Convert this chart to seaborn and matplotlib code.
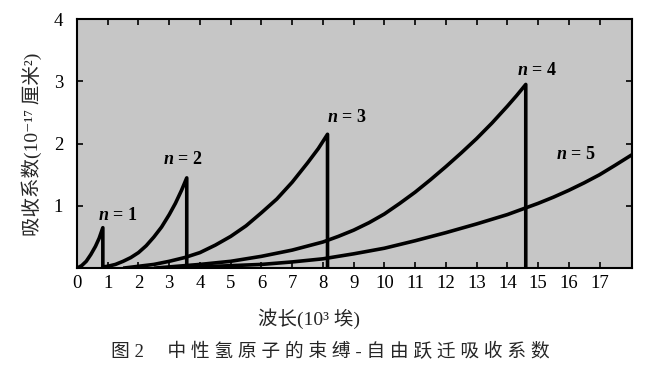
import numpy as np
import pandas as pd
import matplotlib
matplotlib.use("Agg")
import matplotlib.pyplot as plt
import seaborn as sns

# wavelength in 10^3 A, absorption in 10^-17 cm^2
x_n1 = [0.0, 0.15, 0.3, 0.45, 0.6, 0.72, 0.84, 0.84]
y_n1 = [0.0, 0.04, 0.11, 0.22, 0.35, 0.48, 0.65, 0.0]

x_n2 = [0.84, 1.0, 1.25, 1.5, 1.75, 2.0, 2.25, 2.5, 2.75, 3.0, 3.2, 3.4, 3.57, 3.57]
y_n2 = [0.02, 0.03, 0.06, 0.11, 0.17, 0.25, 0.36, 0.50, 0.66, 0.86, 1.04, 1.25, 1.45, 0.0]

x_n3 = [1.5, 2.0, 2.5, 3.0, 3.5, 4.0, 4.5, 5.0, 5.5, 6.0, 6.5, 7.0, 7.5, 7.85, 8.15, 8.15]
y_n3 = [0.0, 0.03, 0.06, 0.11, 0.17, 0.25, 0.37, 0.51, 0.68, 0.89, 1.11, 1.38, 1.69, 1.92, 2.15, 0.0]

x_n4 = [2.5, 3.0, 4.0, 5.0, 6.0, 7.0, 8.0, 8.5, 9.0, 9.5, 10.0, 10.5, 11.0, 11.5,
        12.0, 12.5, 13.0, 13.5, 14.0, 14.3, 14.6, 14.6]
y_n4 = [0.0, 0.02, 0.06, 0.11, 0.19, 0.29, 0.42, 0.51, 0.61, 0.73, 0.87, 1.04, 1.22, 1.42,
        1.63, 1.85, 2.08, 2.33, 2.60, 2.77, 2.95, 0.0]

x_n5 = [3.0, 4.0, 5.0, 6.0, 7.0, 8.0, 9.0, 10.0, 11.0, 12.0, 13.0, 14.0, 15.0, 15.5,
        16.0, 16.5, 17.0, 17.5, 18.05]
y_n5 = [0.0, 0.02, 0.04, 0.06, 0.10, 0.15, 0.23, 0.32, 0.44, 0.57, 0.71, 0.86, 1.04, 1.14,
        1.25, 1.37, 1.50, 1.65, 1.82]

curves = {"1": (x_n1, y_n1), "2": (x_n2, y_n2), "3": (x_n3, y_n3),
          "4": (x_n4, y_n4), "5": (x_n5, y_n5)}

# label positions (left edge x, centre y)
label_pos = {"1": (0.68, 0.85), "2": (2.8, 1.74), "3": (8.12, 2.42),
             "4": (14.3, 3.17), "5": (15.6, 1.83)}

xticks = list(range(0, 18))
yticks = [1, 2, 3, 4]

rows = []
for n, (xs, ys) in curves.items():
    for i, (a, b) in enumerate(zip(xs, ys)):
        rows.append({"n": n, "order": i, "wl": a, "sigma": b})
df = pd.DataFrame(rows)

sns.set_theme(style="ticks")
# serif for latin/digits, CJK falls through to Noto
plt.rcParams['font.family'] = ['Liberation Serif', 'Noto Sans CJK SC', 'DejaVu Sans']
plt.rcParams['mathtext.fontset'] = 'custom'
plt.rcParams['mathtext.rm'] = 'Liberation Serif'
plt.rcParams['mathtext.it'] = 'Liberation Serif:italic:bold'
plt.rcParams['mathtext.bf'] = 'Liberation Serif:bold'

fig = plt.figure(figsize=(6.5, 3.74), dpi=100)
ax = fig.add_axes([0.1185, 0.283, 0.8535, 0.666])
ax.set_facecolor('#c6c6c6')

for n, sub in df.groupby("n"):
    sns.lineplot(data=sub, x="wl", y="sigma", sort=False, estimator=None,
                 color="black", linewidth=2.6, ax=ax, legend=False,
                 solid_joinstyle="round", solid_capstyle="butt")

for n, (lx, ly) in label_pos.items():
    ax.text(lx, ly, r"$n$ = %s" % n, fontsize=13, va="center", ha="left",
            color="black", fontweight="bold")

ax.set_xlim(0, 18.05)
ax.set_ylim(0, 4)
ax.set_xticks(xticks)
ax.set_yticks(yticks)
ax.tick_params(direction='in', length=4, width=1.2, top=True, right=True,
               colors='black', labelsize=13.5)
ax.tick_params(axis='x', pad=5)
ax.tick_params(axis='y', pad=10)
for s in ax.spines.values():
    s.set_linewidth(1.5)
    s.set_color('black')

ax.set_xlabel("波长(10³ 埃)", fontsize=14)
ax.xaxis.set_label_coords((309 - 77) / 555, -(318 - 268) / 249, transform=ax.transAxes)
ax.set_ylabel("吸收系数(10⁻¹⁷ 厘米²)", fontsize=14)
ax.yaxis.set_label_coords(-(77 - 32) / 555, (268 - 144) / 249, transform=ax.transAxes)
ax.xaxis.label.set_va("center")
ax.yaxis.label.set_va("center")

fig.text(330 / 650, 1 - 352 / 374, "图 2　 中 性 氢 原 子 的 束 缚 - 自 由 跃 迁 吸 收 系 数",
         ha="center", va="center", fontsize=13.5)

fig.savefig("out.png", dpi=100, facecolor="white")
